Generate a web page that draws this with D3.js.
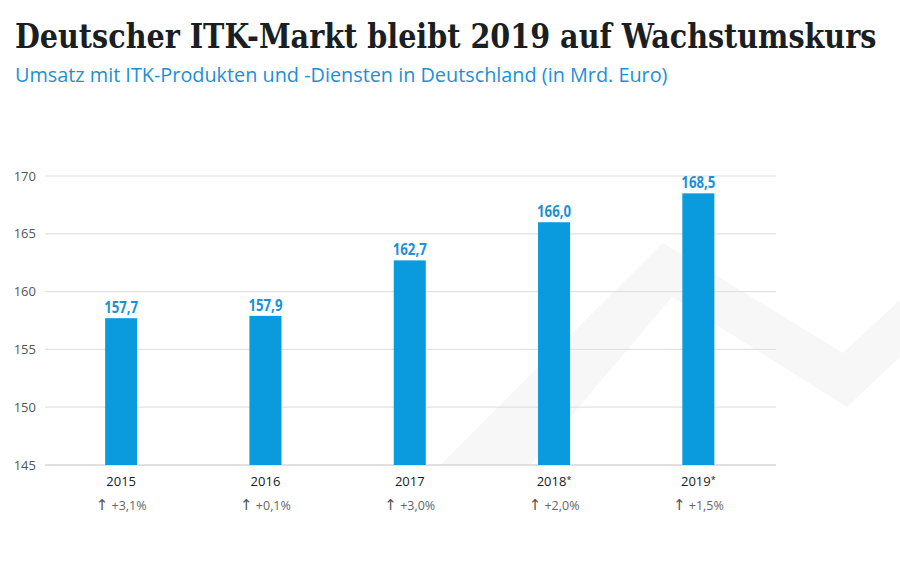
<!DOCTYPE html>
<html><head><meta charset="utf-8">
<script src="https://cdn.jsdelivr.net/npm/d3@7"></script>
<style>
html,body{margin:0;padding:0;background:#fff;}
svg{display:block;}
</style></head>
<body>
<svg id="c" width="900" height="563"></svg>
<script>
const title = "Deutscher ITK-Markt bleibt 2019 auf Wachstumskurs";
const subtitle = "Umsatz mit ITK-Produkten und -Diensten in Deutschland (in Mrd. Euro)";
const years = ["2015","2016","2017","2018*","2019*"];
const values = [157.7,157.9,162.7,166.0,168.5];
const growth = ["+3,1%","+0,1%","+3,0%","+2,0%","+1,5%"];
const yTicks = [145,150,155,160,165,170];

const svg = d3.select("#c");
const pL=49,pR=770.5,pT=176,pB=465;

// watermark
svg.append("polygon")
  .attr("points","440,465 663,243 843,353 900,300 900,357 847,407 672,297 530,465")
  .attr("fill","#f7f7f7");

function fitText(sel, targetW, x0, y0){
  const w = sel.node().getComputedTextLength();
  const s = targetW / w;
  sel.attr("transform",`translate(${x0},${y0}) scale(${s},1)`);
}
const t = svg.append("text").attr("x",0).attr("y",0)
  .attr("font-family","'DejaVu Serif Condensed','DejaVu Serif'").attr("font-weight","bold")
  .attr("font-size",33).attr("fill","#1a1f24").text(title);
fitText(t, 862, 15, 48);
const st = svg.append("text").attr("x",0).attr("y",0)
  .attr("font-family","'Open Sans'").attr("font-size",19.5)
  .attr("fill","#1b90d8").text(subtitle);
fitText(st, 653, 15, 82);

const x = d3.scaleBand().domain(years).range([pL,pR]).paddingInner(0.778).paddingOuter(0.389);
const y = d3.scaleLinear().domain([145,170]).range([pB,pT]);

const g = svg.append("g");
g.selectAll("line.grid").data(yTicks).enter().append("line")
  .attr("x1",45).attr("x2",776)
  .attr("y1",d=>y(d)).attr("y2",d=>y(d))
  .attr("stroke",d=>d===145?"#c4c4c4":"#e2e2e2").attr("stroke-width",1.2);
g.selectAll("text.yt").data(yTicks).enter().append("text")
  .attr("x",36).attr("y",d=>y(d)+4.5).attr("text-anchor","end")
  .attr("font-family","'Open Sans'").attr("font-size",13).attr("fill","#555")
  .text(d=>d);

g.selectAll("rect.bar").data(values).enter().append("rect")
  .attr("x",(d,i)=>x(years[i])).attr("width",x.bandwidth())
  .attr("y",d=>y(d)).attr("height",d=>y(145)-y(d))
  .attr("fill","#0a9ade");
g.selectAll("text.val").data(values).enter().append("text")
  .attr("x",(d,i)=>x(years[i])+x.bandwidth()/2).attr("y",d=>y(d)-5)
  .attr("text-anchor","middle").attr("font-family","'Open Sans'").attr("font-weight","bold")
  .attr("font-size",15.5).attr("fill","#1b90d8")
  .attr("textLength",34).attr("lengthAdjust","spacingAndGlyphs")
  .text(d=>d3.format(".1f")(d).replace(".",","));

const yr = g.selectAll("text.yr").data(years).enter().append("text")
  .attr("x",d=>x(d)+x.bandwidth()/2).attr("y",486).attr("text-anchor","middle")
  .attr("font-family","'Open Sans'").attr("font-size",13).attr("fill","#1a1a1a");
yr.append("tspan").text(d=>d.replace("*",""));
yr.append("tspan").attr("font-size",9).attr("dy",-3).text(d=>d.includes("*")?"*":"");

const gr = g.selectAll("text.gr").data(growth).enter().append("text")
  .attr("x",(d,i)=>x(years[i])+x.bandwidth()/2).attr("y",510).attr("text-anchor","middle")
  .attr("font-family","'Open Sans'").attr("font-size",12.5).attr("fill","#666");
gr.append("tspan").attr("font-family","'DejaVu Sans'").attr("font-size",15).attr("fill","#555").text("\u2191");
gr.append("tspan").text(d=>" "+d);
</script>
</body></html>
